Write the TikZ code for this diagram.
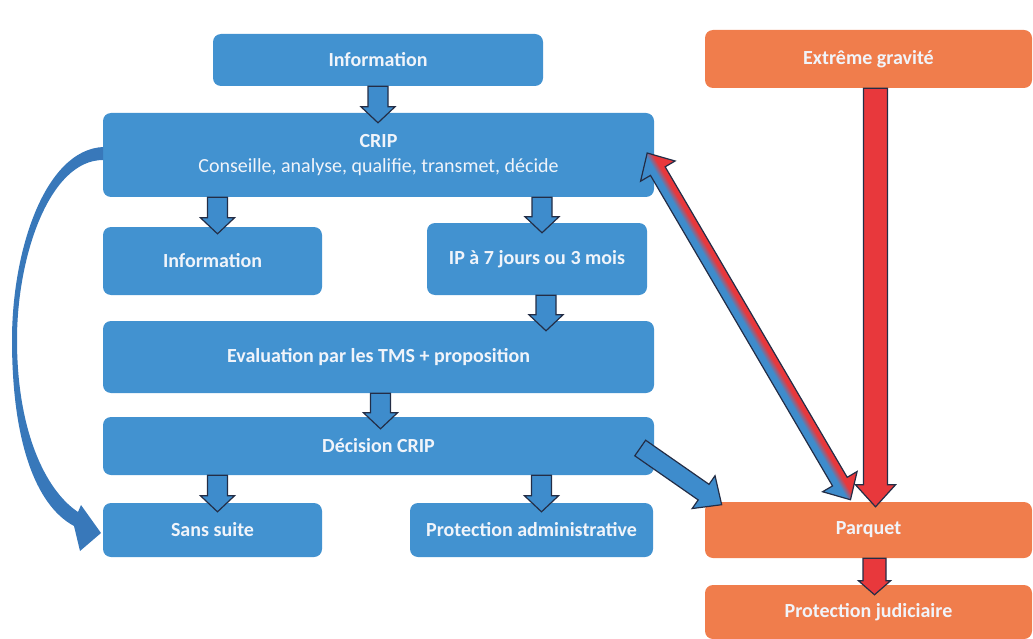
\documentclass[tikz,border=0pt]{standalone}
\usepackage{fontspec}
\setmainfont{Carlito}
\usetikzlibrary{calc}

\definecolor{boxblue}{RGB}{66,146,208}
\definecolor{boxorange}{RGB}{240,125,76}
\definecolor{arrblue}{RGB}{62,140,204}
\definecolor{arrred}{RGB}{232,56,60}
\definecolor{arredge}{RGB}{35,45,70}
\definecolor{curveblue}{RGB}{56,120,186}
\definecolor{labeltext}{RGB}{240,244,250}

\pgfdeclareverticalshading{bluered}{100bp}{color(0bp)=(arrblue); color(25bp)=(arrblue);
  color(47bp)=(arrblue); color(55bp)=(arrred); color(75bp)=(arrred); color(100bp)=(arrred)}

\tikzset{
  ba shaft/.store in=\bas, ba head/.store in=\baw, ba len/.store in=\bah,
  ba shaft=10, ba head=17, ba len=16,
  box/.style={rectangle, rounded corners=8pt, inner sep=0pt, text=labeltext,
    font=\fontsize{20}{25}\selectfont\bfseries, align=center},
  bluebox/.style={box, fill=boxblue},
  orangebox/.style={box, fill=boxorange},
  blockarrow/.style={draw=arredge, line width=1.2pt, fill=arrblue, line join=miter},
  redarrow/.style={blockarrow, fill=arrred},
}

\newcommand\bameasure[2]{%
  \path let \p1=#1, \p2=#2, \n1={atan2(\y2-\y1,\x2-\x1)},
    \n2={veclen(\x2-\x1,\y2-\y1)} in
    \pgfextra{\xdef\bax{\x1}\xdef\bay{\y1}\xdef\baang{\n1}\xdef\balen{\n2}};}

\newcommand\blockarrow[3][]{%
  \bameasure{#2}{#3}
  \begin{scope}[transform canvas={shift={(\bax,\bay)},rotate=\baang}]
    \draw[blockarrow,#1] (0,\bas) -- (\balen-\bah,\bas) -- (\balen-\bah,\baw)
      -- (\balen,0) -- (\balen-\bah,-\baw) -- (\balen-\bah,-\bas) -- (0,-\bas) -- cycle;
  \end{scope}}

\newcommand\dblblockarrow[3][]{%
  \bameasure{#2}{#3}
  \begin{scope}[transform canvas={shift={(\bax,\bay)},rotate=\baang}]
    \draw[blockarrow,#1] (0,0) -- (\bah,\baw) -- (\bah,\bas) -- (\balen-\bah,\bas)
      -- (\balen-\bah,\baw) -- (\balen,0) -- (\balen-\bah,-\baw) -- (\balen-\bah,-\bas)
      -- (\bah,-\bas) -- (\bah,-\baw) -- cycle;
  \end{scope}}

\begin{document}
\begin{tikzpicture}[x=1pt, y=1pt]
  \useasboundingbox (0,0) rectangle (1033,-639);

  \node[bluebox, minimum width=330, minimum height=52] (info) at (378,-60) {Information};
  \node[bluebox, minimum width=551, minimum height=84] (crip) at (378.5,-155)
    {CRIP\\{\mdseries Conseille, analyse, qualifie, transmet, décide}};
  \node[bluebox, minimum width=219, minimum height=68] (infob) at (212.5,-261) {Information};
  \node[bluebox, minimum width=220, minimum height=72] (ip) at (537,-259) {IP à 7 jours ou 3 mois};
  \node[bluebox, minimum width=551, minimum height=72] (eval) at (378.5,-357)
    {Evaluation par les TMS + proposition};
  \node[bluebox, minimum width=551, minimum height=58] (dec) at (378.5,-446) {Décision CRIP};
  \node[bluebox, minimum width=219, minimum height=54] (sans) at (212.5,-530) {Sans suite};
  \node[bluebox, minimum width=243, minimum height=54] (padm) at (531.5,-530)
    {Protection administrative};
  \node[orangebox, minimum width=327, minimum height=58] (ext) at (868.5,-59) {Extrême gravité};
  \node[orangebox, minimum width=327, minimum height=56] (parq) at (868.5,-530) {Parquet};
  \node[orangebox, minimum width=327, minimum height=54] (pjud) at (868.5,-612)
    {Protection judiciaire};

  \fill[curveblue] (103,-147) .. controls (45,-150) and (12,-250) .. (12,-340)
    .. controls (12,-440) and (35,-505) .. (74,-526) -- (80,-551) -- (101,-533)
    -- (81,-505) -- (78,-512) .. controls (45,-490) and (17,-430) .. (17,-340)
    .. controls (17,-255) and (50,-160) .. (103,-160) -- cycle;

  \blockarrow{(info.south)}{($(crip.north -| info.south)+(0,-10)$)}
  \blockarrow{($(crip.south -| infob.north)+(5,0)$)}{($(infob.north)+(5,-7)$)}
  \blockarrow{($(crip.south -| ip.north)+(5,0)$)}{($(ip.north)+(5,-10)$)}
  \blockarrow{($(ip.south)+(9,0)$)}{($(eval.north -| ip.south)+(9,-10)$)}
  \blockarrow{($(eval.south)+(2,0)$)}{($(dec.north)+(2,-12)$)}
  \blockarrow{($(dec.south -| sans.north)+(5,0)$)}{($(sans.north)+(5,-9)$)}
  \blockarrow{($(dec.south -| padm.north)+(10,0)$)}{($(padm.north)+(10,-9)$)}
  \blockarrow[ba shaft=9.5, ba head=20, ba len=22]{($(dec.east)+(-14,-2)$)}{($(parq.north west)+(17,-3)$)}

  \dblblockarrow[shading=bluered, ba shaft=8.5, ba head=20, ba len=21]
    {($(crip.east)+(-7,2)$)}{($(parq.north)+(-18,2)$)}
  \blockarrow[redarrow, ba shaft=12, ba head=20, ba len=22]{($(ext.south)+(7,0)$)}{($(parq.north)+(7,-5)$)}
  \blockarrow[redarrow, ba shaft=11.5, ba head=16, ba len=14]{($(parq.south)+(6,0)$)}{($(pjud.north)+(6,-10)$)}
\end{tikzpicture}
\end{document}
